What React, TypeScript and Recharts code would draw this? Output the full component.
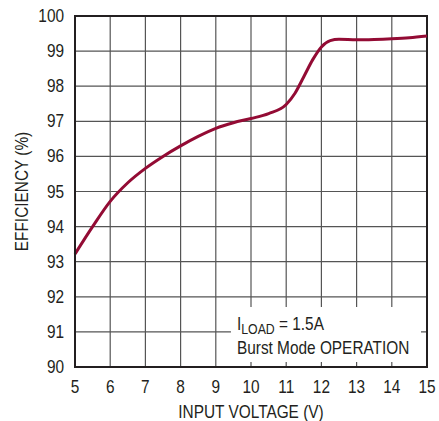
import { LineChart, Line, CartesianGrid, XAxis, YAxis, ReferenceArea, Label } from 'recharts';

const voltage = [5, 5.5, 6, 6.5, 7, 7.5, 8, 8.5, 9, 9.5, 10, 10.5, 11, 11.25, 11.5, 11.75, 12, 12.25, 12.5, 13, 13.5, 14, 14.5, 15];
const efficiency = [93.22, 94.0, 94.72, 95.25, 95.66, 96.0, 96.3, 96.57, 96.8, 96.96, 97.08, 97.22, 97.48, 97.8, 98.27, 98.75, 99.12, 99.3, 99.34, 99.32, 99.33, 99.35, 99.38, 99.43];
const xTicks = [5, 6, 7, 8, 9, 10, 11, 12, 13, 14, 15];
const yTicks = [90, 91, 92, 93, 94, 95, 96, 97, 98, 99, 100];

const data = voltage.map((v, i) => ({ v, eff: efficiency[i] }));

const FONT = '"Liberation Sans", Arial, sans-serif';
const INK = '#231f20';
const SIZE = 17.5;
const SQUEEZE = 0.88;

// condensed text: regular sans squeezed horizontally
function Narrow({ x, y, anchor = 'start', rotate = 0, size = SIZE, children }: any) {
  const t = rotate
    ? `translate(${x},${y}) rotate(${rotate}) scale(${SQUEEZE},1)`
    : `translate(${x},${y}) scale(${SQUEEZE},1)`;
  return (
    <text transform={t} textAnchor={anchor} fontFamily={FONT} fontSize={size} fill={INK}>
      {children}
    </text>
  );
}

function XTick(props: any) {
  const { x, y, payload } = props;
  return <Narrow x={x} y={y + 20} anchor="middle">{payload.value}</Narrow>;
}

function YTick(props: any) {
  const { x, y, payload } = props;
  return <Narrow x={x - 5} y={y + 6} anchor="end">{payload.value}</Narrow>;
}

function XTitle(props: any) {
  const { viewBox } = props;
  return <Narrow x={viewBox.x + viewBox.width / 2} y={418} anchor="middle">INPUT VOLTAGE (V)</Narrow>;
}

function YTitle(props: any) {
  const { viewBox } = props;
  return <Narrow x={28} y={viewBox.y + viewBox.height / 2} anchor="middle" rotate={-90}>EFFICIENCY (%)</Narrow>;
}

function NoteLabel(props: any) {
  const { viewBox } = props;
  const x = viewBox.x + 6;
  const y = viewBox.y;
  return (
    <g>
      <text transform={`translate(${x},${y + 23}) scale(${SQUEEZE},1)`} fontFamily={FONT} fontSize={SIZE} fill={INK}>
        <tspan>I</tspan>
        <tspan fontSize={14} dy={4}>LOAD</tspan>
        <tspan dy={-4}> = 1.5A</tspan>
      </text>
      <Narrow x={x} y={y + 47}>Burst Mode OPERATION</Narrow>
    </g>
  );
}

export default function App() {
  return (
    <div style={{ position: 'absolute', left: 0, top: 0, background: '#fff' }}>
      <LineChart width={439} height={421} data={data} margin={{ top: 16, right: 12, bottom: 0, left: 0 }}>
        <CartesianGrid stroke="#555" strokeWidth={1.2} />
        <XAxis
          dataKey="v"
          type="number"
          domain={[5, 15]}
          ticks={xTicks}
          height={54}
          tickLine={false}
          axisLine={{ stroke: INK, strokeWidth: 2 }}
          tick={<XTick />}
          tickMargin={0}
          interval={0}
        >
          <Label content={<XTitle />} />
        </XAxis>
        <YAxis
          type="number"
          domain={[90, 100]}
          ticks={yTicks}
          width={75}
          tickLine={false}
          axisLine={{ stroke: INK, strokeWidth: 2 }}
          tick={<YTick />}
          tickMargin={0}
          interval={0}
        >
          <Label content={<YTitle />} />
        </YAxis>
        <ReferenceArea x1={9.43} x2={14.83} y1={90.14} y2={91.71} fill="#fff" fillOpacity={1} stroke="none" ifOverflow="visible" label={<NoteLabel />} />
        <Line type="monotone" dataKey="eff" stroke="#930b34" strokeWidth={3} dot={false} isAnimationActive={false} />
        <ReferenceArea x1={5} x2={15} y1={90} y2={100} fill="none" stroke={INK} strokeWidth={2} ifOverflow="visible" />
      </LineChart>
    </div>
  );
}
